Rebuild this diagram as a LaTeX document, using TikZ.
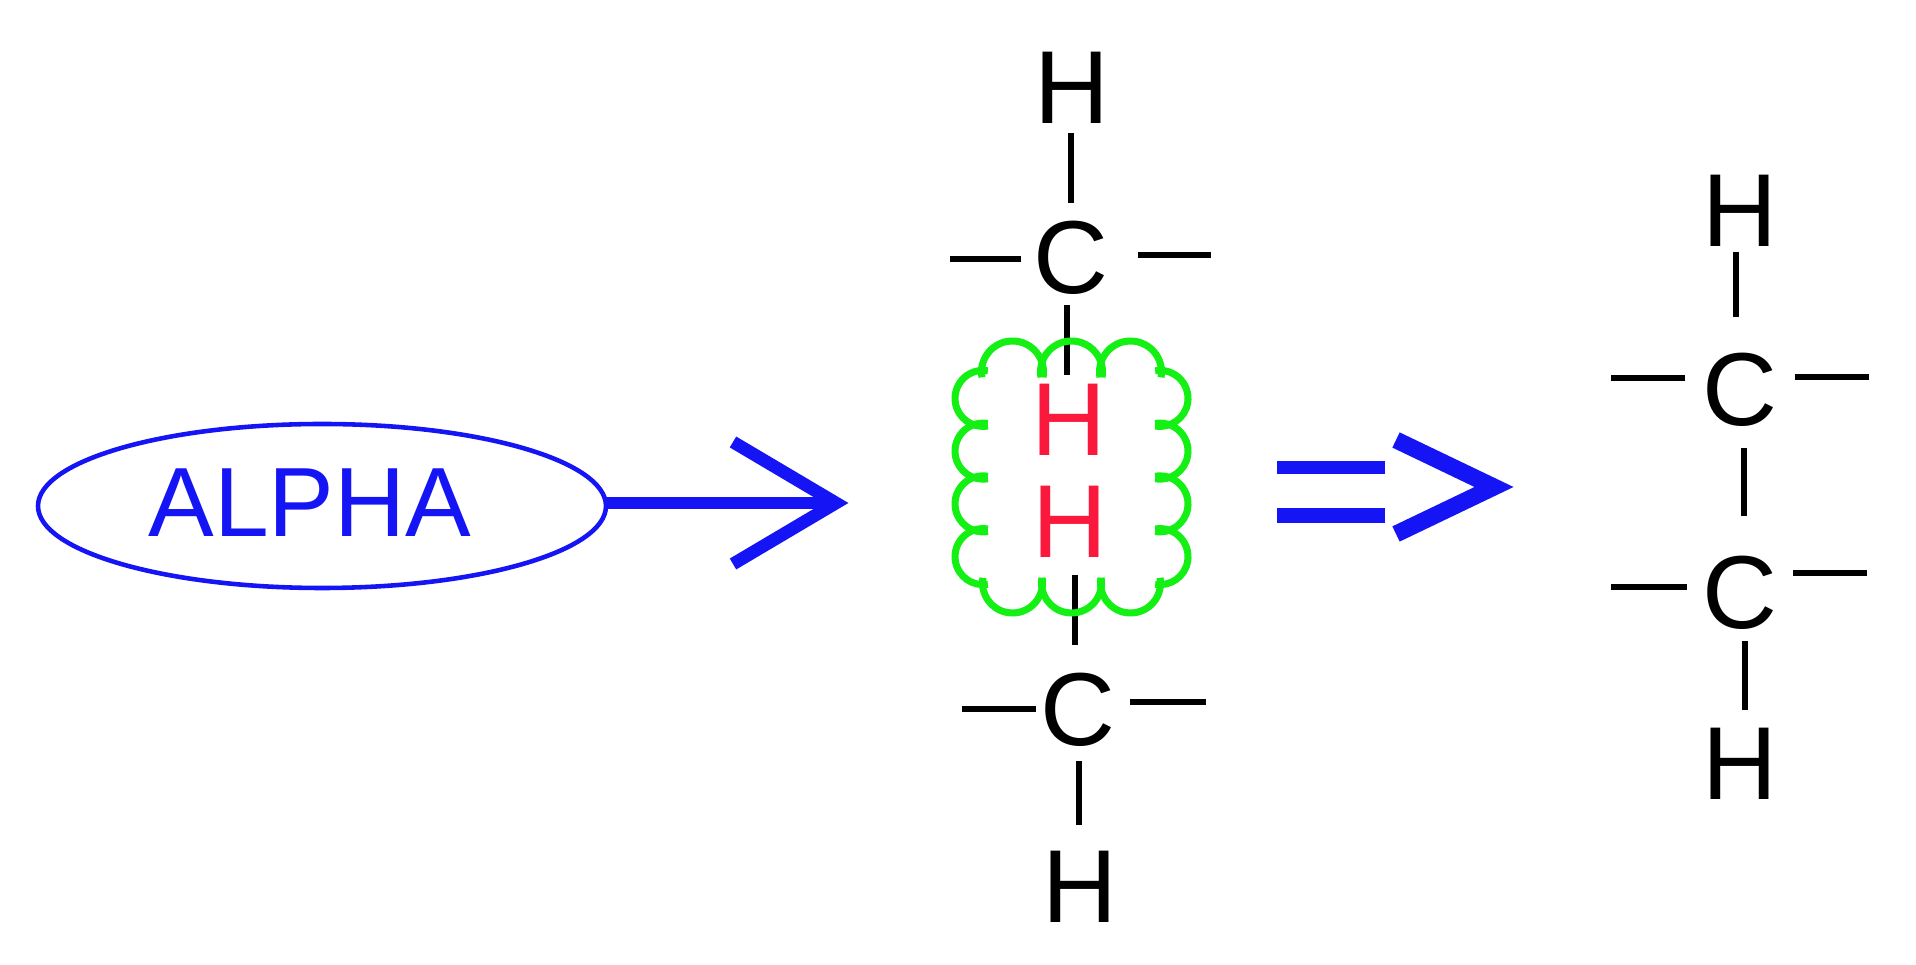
\documentclass[tikz,border=0pt]{standalone}
\usepackage{fontspec}
\setmainfont{Liberation Sans}
\definecolor{myblue}{RGB}{20,20,245}
\definecolor{myred}{RGB}{250,25,60}
\definecolor{mygreen}{RGB}{20,240,20}
\begin{document}
\begin{tikzpicture}[x=0.01cm,y=-0.01cm,
  atom/.style={font=\fontsize{29.5}{29}\selectfont, inner sep=0pt},
  bond/.style={line width=1.8pt, black},
  cloudline/.style={line width=2pt, mygreen}]
\useasboundingbox (0,0) rectangle (1916,965);
% ellipse + arrow
\draw[myblue, line width=1.3pt] (322,506) ellipse [x radius=284, y radius=82];
\node[font=\fontsize{28}{28}\selectfont, text=myblue, inner sep=0pt] (alpha) at (310,503) {ALPHA};
\coordinate (e) at (606,503);
\coordinate (tip) at (836,503);
\draw[myblue, line width=3.6pt] (e) -- (tip);
\draw[myblue, line width=3.6pt] (733,442) -- (tip) -- (733,564);
% middle column
\node[atom] (h1) at (1072,88) {H};
\node[atom] (c1) at (1071,258) {C};
\node[atom, text=myred] (h2) at (1069,420) {H};
\node[atom, text=myred] (h3) at (1070,522) {H};
\node[atom] (c2) at (1078,710) {C};
\node[atom] (h4) at (1080,887) {H};
\draw[bond] (1071,133) -- (1071,203);
\draw[bond] (950,259) -- (1021,259);
\draw[bond] (1138,255) -- (1211,255);
\draw[bond] (1067,305) -- (1067,375);
\draw[bond] (1075,575) -- (1075,645);
\draw[bond] (962,709) -- (1036,709);
\draw[bond] (1130,702) -- (1206,702);
\draw[bond] (1079,761) -- (1079,825);
% cloud
\begin{scope}[cloudline]
\foreach \i in {0,1,2} {
  \draw (1012.5+\i*59,372) ++(170:31) arc[start angle=170, end angle=370, radius=31];
  \draw (1012.5+\i*59,583) ++(190:30) arc[start angle=190, end angle=-10, radius=30];
}
\foreach \j in {0,1,2,3} {
  \draw (983,398.4+\j*52.75) ++(80:28) arc[start angle=80, end angle=280, radius=28];
  \draw (1160,398.4+\j*52.75) ++(100:28) arc[start angle=100, end angle=-100, radius=28];
}
\end{scope}
% double arrow
\fill[myblue] (1277,461) rectangle (1385,474);
\fill[myblue] (1277,508) rectangle (1385,523);
\draw[myblue, line width=4.8pt, miter limit=10] (1396,440) -- (1494,487) -- (1396,534);
% right column
\node[atom] (h5) at (1740,211) {H};
\node[atom] (c3) at (1740,390) {C};
\node[atom] (c4) at (1740,593) {C};
\node[atom] (h6) at (1740,764) {H};
\draw[bond] (1736,252) -- (1736,317);
\draw[bond] (1611,378) -- (1685,378);
\draw[bond] (1795,377) -- (1869,377);
\draw[bond] (1744,448) -- (1744,516);
\draw[bond] (1611,587) -- (1687,587);
\draw[bond] (1793,573) -- (1867,573);
\draw[bond] (1745,641) -- (1745,710);
\end{tikzpicture}
\end{document}
